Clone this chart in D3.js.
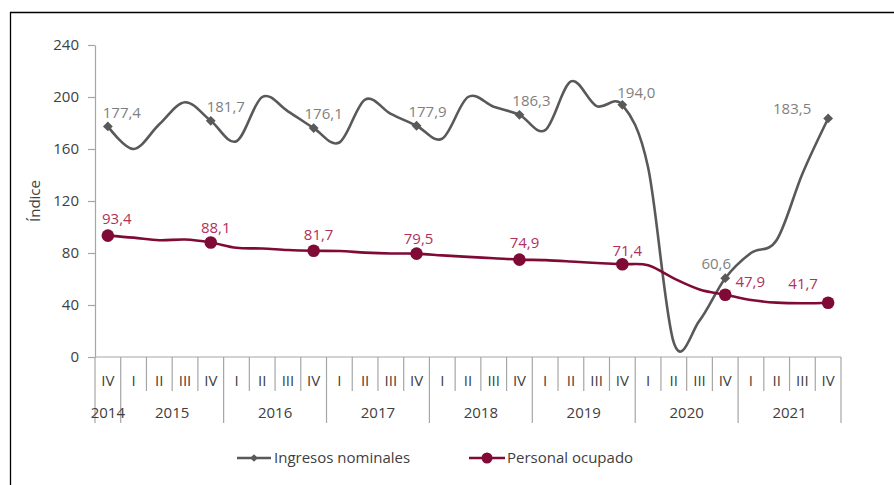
<!DOCTYPE html>
<html><head><meta charset="utf-8">
<script src="https://cdn.jsdelivr.net/npm/d3@7/dist/d3.min.js"></script>
<style>body{margin:0;background:#fff;}svg{display:block;font-family:"Open Sans",sans-serif;}</style>
</head><body><svg id="c" width="894" height="485"></svg>
<script>
const quarters = ["IV","I","II","III","IV","I","II","III","IV","I","II","III","IV","I","II","III","IV","I","II","III","IV","I","II","III","IV","I","II","III","IV"];
const years = ["2014","2015","2016","2017","2018","2019","2020","2021"];
const yearSpans = [1,4,4,4,4,4,4,4];
const ingresos = [177.4,160,179,196,181.7,166,200,189,176.1,165,198,187,177.9,168,200,192.5,186.3,174.5,212,193,194.0,146,11,28,60.6,80,90,141,183.5];
const personal = [93.4,91.8,89.8,90.4,88.1,84,83.5,82.3,81.7,81.5,80.3,79.6,79.5,78.2,77,76,74.9,74.5,73.5,72.3,71.4,70.6,60.5,52,47.9,43.8,41.8,41.3,41.7];
const yTicks = [0,40,80,120,160,200,240];
const seriesNames = ["Ingresos nominales","Personal ocupado"];
// label placement (index, dx, dy)
const grayLabelPos = [[0,14,-14],[4,15,-14],[8,10,-14],[12,11,-14],[16,12,-14],[20,14,-12],[24,-9,-14],[28,-36,-10]];
const redLabelPos = [[0,9,-17],[4,5,-15],[8,5,-16],[12,2,-15],[16,5,-17],[20,5,-13],[24,25,-13],[28,-25,-19]];

const fmt = v => v.toFixed(1).replace(".", ",");
const svg = d3.select("#c");
const GRAY = "#595959", GRAYLBL = "#7f7f7f", RED = "#7f0a36", REDLBL = "#b0315e", AX = "#a6a6a6", TXT = "#404040";
const FS = "15px";

// frame
svg.append("path").attr("d","M10.5,485 L10.5,12.5 L894,12.5").attr("fill","none").attr("stroke","#000").attr("stroke-width",1.3);

const x = d3.scaleBand().domain(d3.range(quarters.length)).range([95,841]).padding(0);
const y = d3.scaleLinear().domain([0,240]).range([357,45]);
const cx = i => x(i) + x.bandwidth()/2;

// y axis
const ya = svg.append("g").attr("transform","translate(95,0)").call(d3.axisLeft(y).tickValues(yTicks).tickSize(7).tickPadding(9).tickSizeOuter(0));
ya.select(".domain").attr("stroke",AX).attr("stroke-width",1.2);
ya.selectAll(".tick line").attr("stroke",AX).attr("stroke-width",1.2);
ya.selectAll(".tick text").attr("fill",TXT).style("font-size",FS).style("font-family","Open Sans");

svg.append("text").attr("transform","translate(40,201) rotate(-90)").attr("text-anchor","middle")
  .attr("fill",TXT).style("font-size",FS).text("Índice");

// x axis
const xg = svg.append("g");
xg.append("line").attr("x1",95).attr("x2",841).attr("y1",y(0)).attr("y2",y(0)).attr("stroke",AX).attr("stroke-width",1.2);
const bounds = [0]; yearSpans.forEach((s,k)=>bounds.push(bounds[k]+s));
const edgeX = i => i >= quarters.length ? x.range()[1] : x(i);
d3.range(quarters.length+1).forEach(i => {
  const isYear = bounds.includes(i);
  xg.append("line").attr("x1",edgeX(i)).attr("x2",edgeX(i)).attr("y1",y(0)).attr("y2",isYear?423:391)
    .attr("stroke",AX).attr("stroke-width",1.2);
});
xg.selectAll("text.q").data(quarters).enter().append("text").attr("class","q")
  .attr("x",(d,i)=>cx(i)).attr("y",386).attr("text-anchor","middle").attr("fill",TXT).style("font-size",FS).text(d=>d);
xg.selectAll("text.y").data(years).enter().append("text").attr("class","y")
  .attr("x",(d,k)=>(edgeX(bounds[k])+edgeX(bounds[k+1]))/2).attr("y",418).attr("text-anchor","middle")
  .attr("fill",TXT).style("font-size",FS).text(d=>d);

// lines
const line = d3.line().x((d,i)=>cx(i)).y(d=>y(d)).curve(d3.curveCardinal.tension(0));
svg.append("path").datum(ingresos).attr("d",line).attr("fill","none").attr("stroke",GRAY).attr("stroke-width",2.6);
svg.append("path").datum(personal).attr("d",line).attr("fill","none").attr("stroke",RED).attr("stroke-width",2.6);

const sq = d3.symbol().type(d3.symbolSquare).size(48);
const markIdx = d3.range(0,quarters.length,4);
svg.selectAll("path.dm").data(markIdx).enter().append("path").attr("class","dm")
  .attr("transform",i=>`translate(${cx(i)},${y(ingresos[i])}) rotate(45)`).attr("d",sq()).attr("fill",GRAY);
svg.selectAll("circle.rm").data(markIdx).enter().append("circle").attr("class","rm")
  .attr("cx",i=>cx(i)).attr("cy",i=>y(personal[i])).attr("r",6.3).attr("fill",RED);

svg.selectAll("text.gl").data(grayLabelPos).enter().append("text").attr("class","gl")
  .attr("x",d=>cx(d[0])+d[1]).attr("y",d=>y(ingresos[d[0]])+d[2]).attr("dy","0.35em").attr("text-anchor","middle")
  .attr("fill",GRAYLBL).style("font-size",FS).text(d=>fmt(ingresos[d[0]]));
svg.selectAll("text.rl").data(redLabelPos).enter().append("text").attr("class","rl")
  .attr("x",d=>cx(d[0])+d[1]).attr("y",d=>y(personal[d[0]])+d[2]).attr("dy","0.35em").attr("text-anchor","middle")
  .attr("fill",REDLBL).style("font-size",FS).text(d=>fmt(personal[d[0]]));

// legend
const lg = svg.append("g");
lg.append("line").attr("x1",237).attr("x2",271).attr("y1",458).attr("y2",458).attr("stroke",GRAY).attr("stroke-width",2.6);
lg.append("path").attr("transform","translate(254,458) rotate(45)").attr("d",d3.symbol().type(d3.symbolSquare).size(30)()).attr("fill",GRAY);
lg.append("text").attr("x",274).attr("y",458).attr("dy","0.35em").attr("fill",TXT).style("font-size",FS).text(seriesNames[0]);
lg.append("line").attr("x1",469).attr("x2",505).attr("y1",458).attr("y2",458).attr("stroke",RED).attr("stroke-width",2.6);
lg.append("circle").attr("cx",487).attr("cy",458).attr("r",5.5).attr("fill",RED);
lg.append("text").attr("x",507).attr("y",458).attr("dy","0.35em").attr("fill",TXT).style("font-size",FS).text(seriesNames[1]);
</script></body></html>
